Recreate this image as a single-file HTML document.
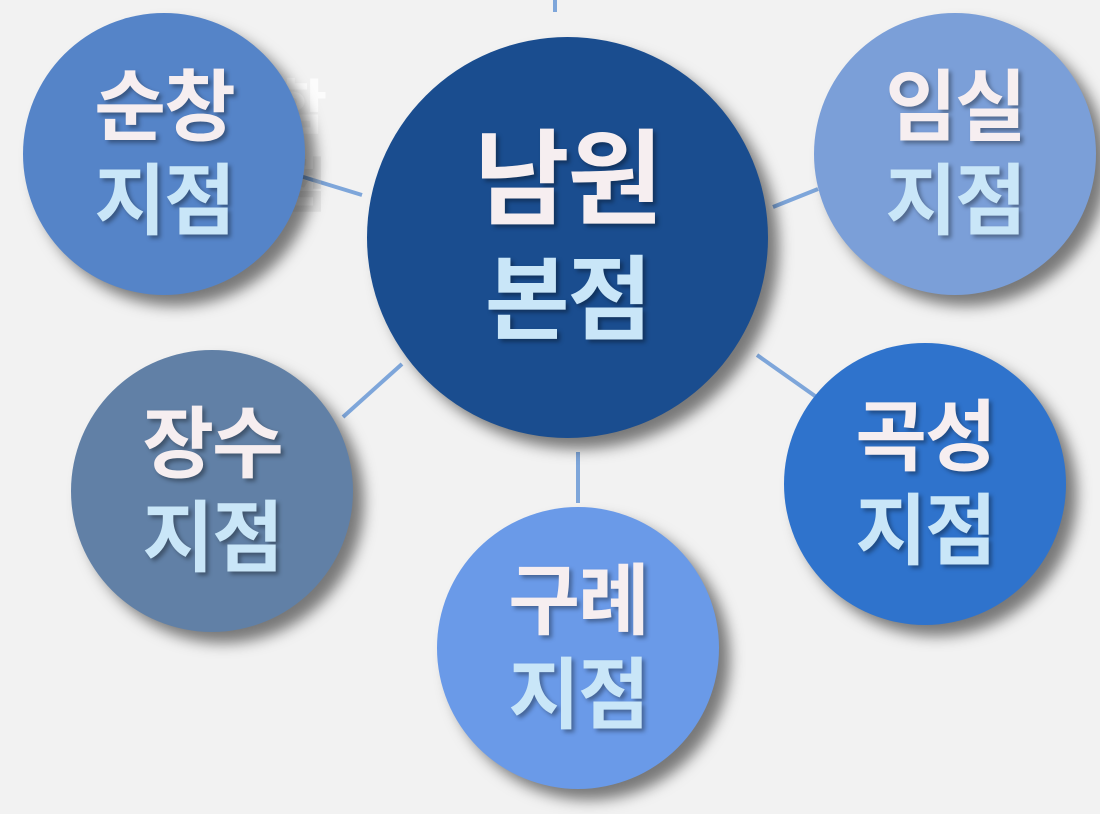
<!DOCTYPE html>
<html><head><meta charset="utf-8"><style>
html,body{margin:0;padding:0;}
body{width:1100px;height:814px;background:#f2f2f2;position:relative;overflow:hidden;font-family:"Liberation Sans","Noto Sans CJK KR","NanumGothic",sans-serif;}
.c{position:absolute;border-radius:50%;box-shadow:11px 11px 14px rgba(0,0,0,0.5);display:flex;flex-direction:column;align-items:center;justify-content:center;font-weight:bold;}
.t{color:#f6eef0;text-shadow:3px 3px 4px rgba(0,0,0,0.35);line-height:1;letter-spacing:-2px;}
.b{color:#c9e6f8;text-shadow:3px 3px 4px rgba(0,0,0,0.35);line-height:1;letter-spacing:-2px;}
.s .t,.s .b{font-size:78px;}
.s .t{margin-bottom:16px;}
svg{position:absolute;left:0;top:0;}
</style></head><body>
<svg width="1100" height="814">
<g stroke="#7ea6da" stroke-width="4">
<line x1="555" y1="0" x2="555" y2="12"/>
<line x1="300" y1="176" x2="362" y2="195"/>
<line x1="773" y1="207" x2="818" y2="189"/>
<line x1="343" y1="417" x2="402" y2="364"/>
<line x1="757" y1="355" x2="815" y2="396"/>
<line x1="578" y1="452" x2="578" y2="503"/>
</g>
</svg>
<div style="position:absolute;left:272px;top:70px;font-size:60px;font-weight:bold;color:rgba(255,255,255,0.75);line-height:1.3;">함<br><span style="color:rgba(200,200,200,0.3)">점</span></div>
<div class="c s" style="left:23px;top:13px;width:282px;height:282px;background:#5584c8;"><div class="t">순창</div><div class="b">지점</div></div>
<div class="c" style="left:367px;top:37px;width:401px;height:401px;background:#1a4d8f;"><div class="t" style="font-size:104px;margin-bottom:22px;">남원</div><div class="b" style="font-size:92px;">본점</div></div>
<div class="c s" style="left:814px;top:13px;width:282px;height:282px;background:#7b9fd8;"><div class="t">임실</div><div class="b">지점</div></div>
<div class="c s" style="left:71px;top:350px;width:282px;height:282px;background:#6180a6;"><div class="t">장수</div><div class="b">지점</div></div>
<div class="c s" style="left:784px;top:343px;width:282px;height:282px;background:#2f73cc;"><div class="t">곡성</div><div class="b">지점</div></div>
<div class="c s" style="left:437px;top:507px;width:282px;height:282px;background:#6a9ae8;"><div class="t">구례</div><div class="b">지점</div></div>
</body></html>
